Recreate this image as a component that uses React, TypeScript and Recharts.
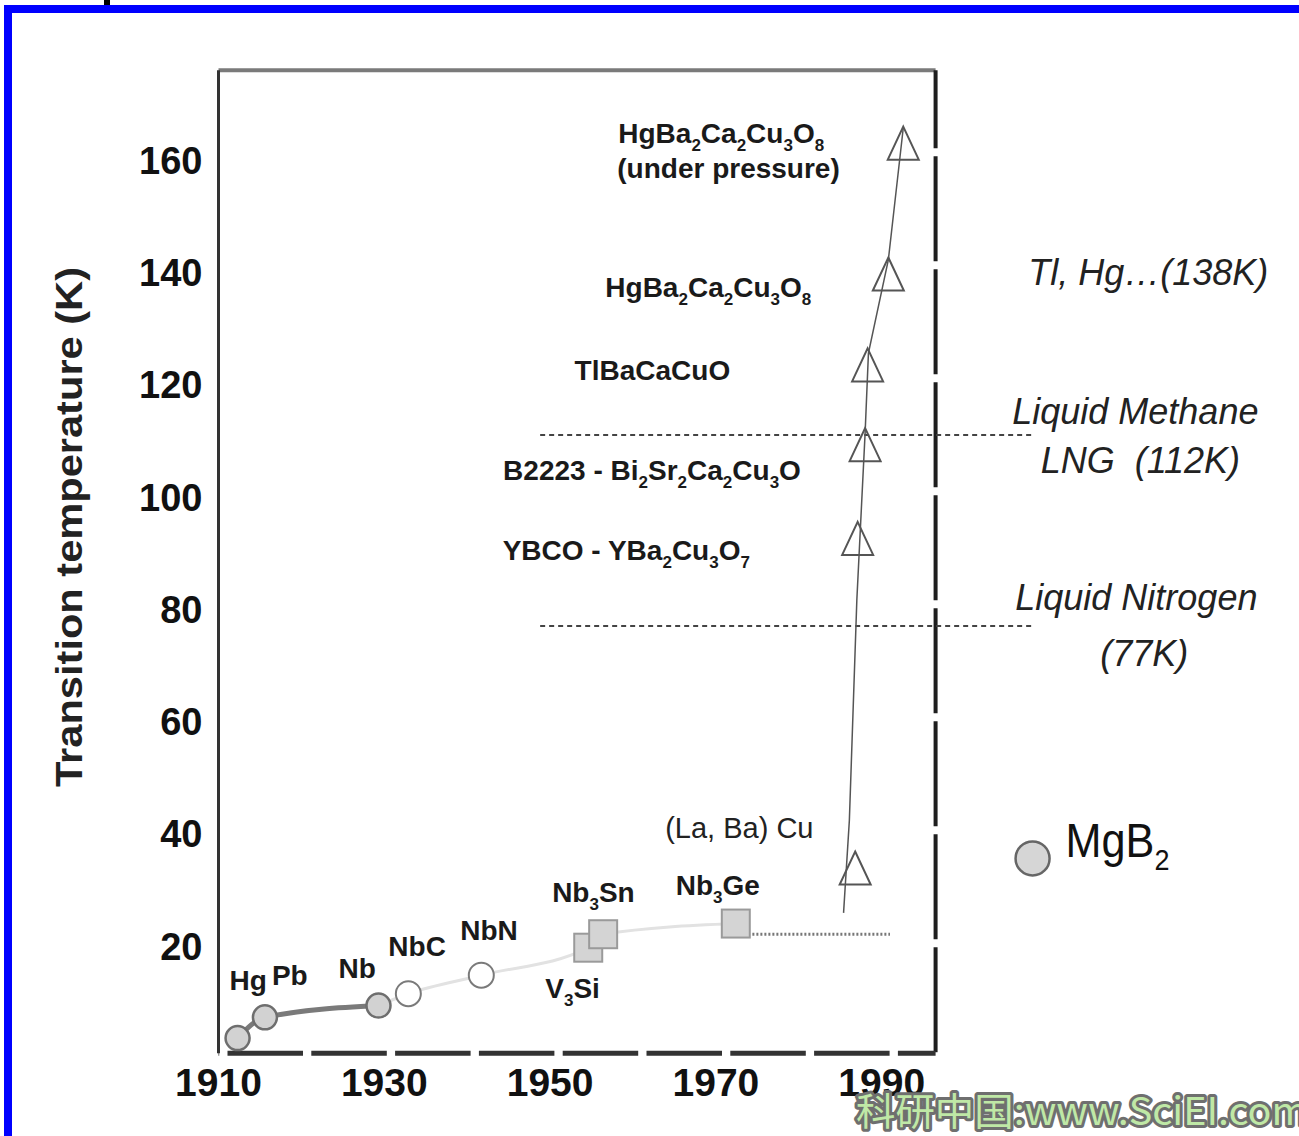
import React from 'react';
import { ComposedChart, Line, Scatter, XAxis, YAxis, ReferenceLine } from 'recharts';

// values: discovery year and transition temperature (K)
// "_3" marks a subscript digit, "|" a line break in the label
const ELEMENTS = [
  { name: 'Hg', year: 1912.3, tc: 3.6 },
  { name: 'Pb', year: 1915.6, tc: 7.3 },
  { name: 'Nb', year: 1929.3, tc: 9.4 },
];

const CARBO_NITRIDES = [
  { name: 'NbC', year: 1932.9, tc: 11.5 },
  { name: 'NbN', year: 1941.7, tc: 14.8 },
];

const A15 = [
  { name: 'V_3Si', year: 1954.6, tc: 19.7 },
  { name: 'Nb_3Sn', year: 1956.4, tc: 22.1 },
  { name: 'Nb_3Ge', year: 1972.4, tc: 24.0 },
];

const CUPRATES = [
  { name: '(La, Ba) Cu', year: 1986.8, tc: 33.9 },
  { name: 'YBCO - YBa_2Cu_3O_7', year: 1987.1, tc: 92.6 },
  { name: 'B2223 - Bi_2Sr_2Ca_2Cu_3O', year: 1988.0, tc: 109.3 },
  { name: 'TlBaCaCuO', year: 1988.3, tc: 123.5 },
  { name: 'HgBa_2Ca_2Cu_3O_8', year: 1990.8, tc: 139.7 },
  { name: 'HgBa_2Ca_2Cu_3O_8|(under pressure)', year: 1992.6, tc: 163.0 },
];

const MGB2 = [{ name: 'MgB_2', year: 2008.2, tc: 35.6 }];

// the thin line drawn through the cuprate triangles
const CUPRATE_TREND = [
  { year: 1985.4, tc: 25.9 },
  { year: 1986.1, tc: 42.4 },
  { year: 1987.0, tc: 81.6 },
  { year: 1988.0, tc: 111.4 },
  { year: 1988.4, tc: 125.6 },
  { year: 1990.8, tc: 142.2 },
  { year: 1992.6, tc: 165.7 },
];

// coolant levels and notes on the right
const COOLANT_TC = [111, 77];
const COOLANT_YEARS = [1948.8, 2008.5];
const NOTES = [
  { name: 'Tl, Hg…(138K)', tc: 138 },
  { name: 'Liquid Methane|LNG  (112K)', tc: 111 },
  { name: 'Liquid Nitrogen|(77K)', tc: 77 },
];
const NB3GE_PLATEAU = { tc: 22.1, from: 1974.4, to: 1991 };

const X_TICKS = [1910, 1930, 1950, 1970, 1990];
const Y_TICKS = [20, 40, 60, 80, 100, 120, 140, 160];

// ---- layout ----
const W = 1299;
const H = 1136;
const FONT = '"Liberation Sans", Arial, Helvetica, sans-serif';
const FRAME = { left: 1910, right: 1996.5, bottom: 0.9, top: 176 };
const NOTE_YEAR = 2021.2;

// label offsets from the marker centre (px): [dx, baseline dy] per line
const LABEL_POS: Record<string, number[][]> = {
  Hg: [[-8, -48]],
  Pb: [[7, -32]],
  Nb: [[-40, -28]],
  NbC: [[-20, -38]],
  NbN: [[-21, -35]],
  V_3Si: [[-43, 50]],
  Nb_3Sn: [[-51, -32]],
  Nb_3Ge: [[-60, -29]],
  '(La, Ba) Cu': [[-190, -30]],
  'YBCO - YBa_2Cu_3O_7': [[-355, 22]],
  'B2223 - Bi_2Sr_2Ca_2Cu_3O': [[-362, 35]],
  TlBaCaCuO: [[-293, 15]],
  HgBa_2Ca_2Cu_3O_8: [[-283, 23]],
  'HgBa_2Ca_2Cu_3O_8|(under pressure)': [[-285, 0], [-286, 35]],
};

const NOTE_POS: Record<string, number[][]> = {
  'Tl, Hg…(138K)': [[8, 1]],
  'Liquid Methane|LNG  (112K)': [[-5, -11], [0, 38]],
  'Liquid Nitrogen|(77K)': [[-4, -16], [4, 40]],
};

const Formula = ({ text, x, y, size, weight = 'bold', anchor = 'start', italic = false, fill = '#1a1a1a' }: any) => {
  const parts = text.split(/_(\d)/);
  const sub = Math.round(size * 0.62);
  const shift = Math.round(size * 0.27);
  return (
    <text
      x={x}
      y={y}
      fontSize={size}
      fontWeight={weight}
      fontStyle={italic ? 'italic' : 'normal'}
      fontFamily={FONT}
      fill={fill}
      textAnchor={anchor}
      style={{ whiteSpace: 'pre' }}
    >
      {parts.map((p: string, i: number) =>
        i % 2 === 1 ? (
          <tspan key={i} fontSize={sub} dy={shift}>{p}</tspan>
        ) : (
          <tspan key={i} dy={i === 0 ? 0 : -shift}>{p}</tspan>
        )
      )}
    </text>
  );
};

const labels = (name: string, cx: number, cy: number) =>
  name.split('|').map((t, i) => {
    const pos = (LABEL_POS[name] || [[0, 0]])[i] || [0, 0];
    const plain = name === '(La, Ba) Cu';
    return (
      <Formula
        key={i}
        text={t}
        x={cx + pos[0]}
        y={cy + pos[1]}
        size={plain ? 29 : 28}
        weight={plain ? 'normal' : 'bold'}
        fill={plain ? '#222' : '#1a1a1a'}
      />
    );
  });

const FilledCircle = ({ cx, cy, payload }: any) => (
  <g>
    <circle cx={cx} cy={cy} r={12} fill="#d2d2d2" stroke="#6e6e6e" strokeWidth={2.5} />
    {labels(payload.name, cx, cy)}
  </g>
);

const OpenCircle = ({ cx, cy, payload }: any) => (
  <g>
    <circle cx={cx} cy={cy} r={12.5} fill="#fff" stroke="#7a7a7a" strokeWidth={2} />
    {labels(payload.name, cx, cy)}
  </g>
);

const Square = ({ cx, cy, payload }: any) => (
  <g>
    <rect x={cx - 14} y={cy - 14} width={28} height={28} fill="#d4d4d4" stroke="#9a9a9a" strokeWidth={2} />
    {labels(payload.name, cx, cy)}
  </g>
);

const Triangle = ({ cx, cy, payload }: any) => (
  <g>
    <path
      d={`M${cx},${cy - 16.5} L${cx + 15.5},${cy + 16.5} L${cx - 15.5},${cy + 16.5} Z`}
      fill="none"
      stroke="#555"
      strokeWidth={2}
    />
    {labels(payload.name, cx, cy)}
  </g>
);

const MgB2Mark = ({ cx, cy, payload }: any) => (
  <g>
    <circle cx={cx} cy={cy} r={17} fill="#d6d6d6" stroke="#666" strokeWidth={2.5} />
    <g transform={`translate(${cx + 33},${cy - 1}) scale(0.9,1)`}>
      <Formula text={payload.name} x={0} y={0} size={48} weight="normal" fill="#111" />
    </g>
  </g>
);

const Note = ({ cx, cy, payload }: any) => (
  <g>
    {payload.name.split('|').map((t: string, i: number) => {
      const pos = NOTE_POS[payload.name][i];
      return (
        <Formula key={i} text={t} x={cx + pos[0]} y={cy + pos[1]} size={36} weight="normal" italic anchor="middle" fill="#222" />
      );
    })}
  </g>
);

const XTick = (p: any) => (
  <text x={p.x} y={p.y} dy="0.72em" textAnchor="middle" fontFamily={FONT} fontWeight="bold" fontSize={39} fill="#111">
    {p.payload.value}
  </text>
);

const YTick = (p: any) => (
  <text x={p.x} y={p.y} dy="0.36em" textAnchor="end" fontFamily={FONT} fontWeight="bold" fontSize={38} fill="#111">
    {p.payload.value}
  </text>
);

const YTitle = () => (
  <text
    x={82}
    y={527}
    transform="rotate(-90, 82, 527)"
    textAnchor="middle"
    fontFamily={FONT}
    fontWeight="bold"
    fontSize={37}
    fill="#222"
    textLength={520}
    lengthAdjust="spacingAndGlyphs"
  >
    Transition temperature (K)
  </text>
);

export default function App() {
  const notes = NOTES.map((n) => ({ ...n, year: NOTE_YEAR }));

  return (
    <div style={{ position: 'absolute', left: 0, top: 0, width: W, height: H, background: '#fff', overflow: 'hidden' }}>
      {/* blue frame of the original page */}
      <div style={{ position: 'absolute', left: 4, top: 5, width: W - 4, height: 8, background: '#0000ff' }} />
      <div style={{ position: 'absolute', left: 4, top: 5, width: 8, height: H - 5, background: '#0000ff' }} />
      <div style={{ position: 'absolute', left: 104, top: 0, width: 6, height: 5, background: '#000' }} />

      <div style={{ position: 'absolute', left: 0, top: 0 }}>
        <ComposedChart width={W} height={H} margin={{ top: 70.2, right: 2.8, bottom: 17.7, left: 0 }}>
          <XAxis
            type="number"
            dataKey="year"
            domain={[1910, 2040]}
            ticks={X_TICKS}
            interval={0}
            axisLine={false}
            tickLine={false}
            tickSize={0}
            tickMargin={10}
            height={60}
            tick={<XTick />}
          />
          <YAxis
            type="number"
            dataKey="tc"
            domain={[0, 176]}
            ticks={Y_TICKS}
            interval={0}
            axisLine={false}
            tickLine={false}
            tickSize={0}
            tickMargin={16}
            width={218.5}
            tick={<YTick />}
            label={<YTitle />}
          />

          {/* plot frame */}
          <ReferenceLine
            segment={[{ x: FRAME.left, y: FRAME.top }, { x: FRAME.right, y: FRAME.top }]}
            stroke="#7a7a7a"
            strokeWidth={4}
            ifOverflow="visible"
          />
          <ReferenceLine
            segment={[{ x: FRAME.left, y: FRAME.top }, { x: FRAME.left, y: FRAME.bottom }]}
            stroke="#333"
            strokeWidth={3}
            ifOverflow="visible"
          />
          <ReferenceLine
            segment={[{ x: FRAME.right, y: FRAME.top }, { x: FRAME.right, y: FRAME.bottom }]}
            stroke="#1e1e1e"
            strokeWidth={4}
            strokeDasharray="105 8"
            strokeDashoffset={27}
            ifOverflow="visible"
          />
          <ReferenceLine
            segment={[{ x: FRAME.left, y: FRAME.bottom }, { x: FRAME.right, y: FRAME.bottom }]}
            stroke="#333"
            strokeWidth={5}
            strokeDasharray="75.5 8.3"
            strokeDashoffset={74.8}
            ifOverflow="visible"
          />

          {/* coolant levels */}
          {COOLANT_TC.map((tc) => (
            <ReferenceLine
              key={tc}
              segment={[{ x: COOLANT_YEARS[0], y: tc }, { x: COOLANT_YEARS[1], y: tc }]}
              stroke="#444"
              strokeWidth={2}
              strokeDasharray="5 4"
              ifOverflow="visible"
            />
          ))}
          <ReferenceLine
            segment={[{ x: NB3GE_PLATEAU.from, y: NB3GE_PLATEAU.tc }, { x: NB3GE_PLATEAU.to, y: NB3GE_PLATEAU.tc }]}
            stroke="#777"
            strokeWidth={3}
            strokeDasharray="2 2"
            ifOverflow="visible"
          />

          {/* trend lines */}
          <Line
            data={[ELEMENTS[2], ...CARBO_NITRIDES, ...A15]}
            dataKey="tc"
            type="monotone"
            stroke="#e2e2e2"
            strokeWidth={3}
            dot={false}
            activeDot={false}
            isAnimationActive={false}
          />
          <Line
            data={ELEMENTS}
            dataKey="tc"
            type="monotone"
            stroke="#7a7a7a"
            strokeWidth={5}
            dot={false}
            activeDot={false}
            isAnimationActive={false}
          />
          <Line
            data={CUPRATE_TREND}
            dataKey="tc"
            type="linear"
            stroke="#555"
            strokeWidth={1.5}
            dot={false}
            activeDot={false}
            isAnimationActive={false}
          />

          {/* materials */}
          <Scatter data={ELEMENTS} dataKey="tc" shape={<FilledCircle />} isAnimationActive={false} />
          <Scatter data={CARBO_NITRIDES} dataKey="tc" shape={<OpenCircle />} isAnimationActive={false} />
          <Scatter data={A15} dataKey="tc" shape={<Square />} isAnimationActive={false} />
          <Scatter data={CUPRATES} dataKey="tc" shape={<Triangle />} isAnimationActive={false} />
          <Scatter data={MGB2} dataKey="tc" shape={<MgB2Mark />} isAnimationActive={false} />
          <Scatter data={notes} dataKey="tc" shape={<Note />} isAnimationActive={false} />
        </ComposedChart>
      </div>

      {/* watermark of the source site */}
      <svg width={W} height={H} style={{ position: 'absolute', left: 0, top: 0, pointerEvents: 'none' }}>
        <text
          x={856}
          y={1125}
          fontSize={38}
          fontFamily={'"Noto Sans CJK SC", "DejaVu Sans Mono", monospace'}
          fill="#bfe8a6"
          stroke="#6f6f6f"
          strokeWidth={6}
          strokeLinejoin="round"
          paintOrder="stroke"
          textLength={452}
          lengthAdjust="spacingAndGlyphs"
        >
          科研中国:www.SciEI.com
        </text>
      </svg>
    </div>
  );
}
